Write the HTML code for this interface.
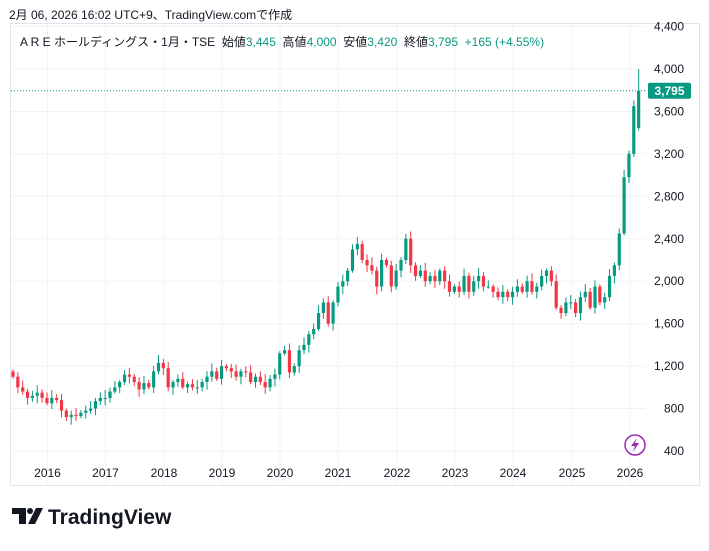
<!DOCTYPE html>
<html><head><meta charset="utf-8"><style>
body{margin:0;background:#fff;width:709px;height:546px;overflow:hidden;font-family:"Liberation Sans","Noto Sans CJK JP",sans-serif;}
</style></head><body>
<svg id="s" width="709" height="546" xmlns="http://www.w3.org/2000/svg" font-family="Liberation Sans, Noto Sans CJK JP, sans-serif"></svg>
<script>
const s=document.getElementById('s');let h='';
h+='<text x="9" y="19" font-size="12" fill="#131722">2月 06, 2026 16:02 UTC+9、TradingView.comで作成</text>';
h+='<rect x="10.5" y="23.5" width="689" height="462" fill="none" stroke="#e0e3eb"/>';
const Y=p=>69+(4000-p)*0.10611;
for(let p=400;p<=4400;p+=400){const y=Y(p);if(y>24&&y<486){h+=`<line x1="11" x2="645" y1="${y}" y2="${y}" stroke="#f0f3fa"/>`;h+=`<text x="684" y="${y+4}" font-size="12" fill="#131722" text-anchor="end">${p.toLocaleString('en-US')}</text>`;}}
const yrs=[47.5,105.5,164,222,280,338,397,455,513,572,630];
yrs.forEach((x,i)=>{h+=`<line x1="${x}" x2="${x}" y1="24" y2="485" stroke="#f0f3fa"/>`;h+=`<text x="${x}" y="477" font-size="12" fill="#131722" text-anchor="middle">${2016+i}</text>`;});
const c=[1100,1000,960,900,920,950,900,
850,900,880,780,720,740,730,760,780,800,870,900,
900,960,1000,1050,1120,1100,1050,980,1040,1000,1150,1230,
1180,1000,1050,1080,1000,1030,1000,1000,1050,1100,1150,1080,
1200,1180,1150,1100,1150,1140,1050,1100,1050,1000,1080,1120,
1320,1350,1140,1200,1350,1400,1500,1550,1700,1800,1600,1800,
1950,2000,2100,2300,2350,2200,2150,2100,1950,2200,2150,1950,
2100,2200,2400,2150,2050,2100,2000,2050,2000,2100,2000,1900,
1950,1900,2050,1900,2000,2050,1950,1950,1900,1850,1900,1850,
1900,1950,1900,2000,1900,1950,2050,2100,2000,1750,1700,1800,
1800,1700,1850,1900,1750,1950,1800,1850,2050,2150,2450,2980,
3200,3650,3795];
let prev=1150;
c.forEach((cl,i)=>{const x=13+i*4.85;let o=prev;if(i==c.length-1)o=3445;
const r=((i*37)%11)/11;const up=cl>=o;const col=up?'#089981':'#f23645';
let hi=Math.max(o,cl)+20+r*60,lo=Math.min(o,cl)-20-((i*53)%7)/7*60;if(i==c.length-1){hi=4000;lo=3420;}
const y1=Y(Math.max(o,cl)),y2=Y(Math.min(o,cl));
h+=`<line x1="${x}" x2="${x}" y1="${Y(hi)}" y2="${Y(lo)}" stroke="${col}"/>`;
h+=`<rect x="${x-1.6}" y="${y1}" width="3.2" height="${Math.max(1,y2-y1)}" fill="${col}"/>`;prev=cl;});
const yl=Y(3795);
h+=`<line x1="11" x2="645" y1="${yl}" y2="${yl}" stroke="#089981" stroke-dasharray="1,2"/>`;
h+=`<rect x="648" y="${yl-8}" width="43" height="16" rx="2" fill="#089981"/><text x="669.5" y="${yl+4}" font-size="12" font-weight="bold" fill="#fff" text-anchor="middle">3,795</text>`;
h+='<text x="20" y="46" font-size="12" fill="#131722">A R E ホールディングス・1月・TSE&#160; 始値<tspan fill="#089981">3,445</tspan>&#160; 高値<tspan fill="#089981">4,000</tspan>&#160; 安値<tspan fill="#089981">3,420</tspan>&#160; 終値<tspan fill="#089981">3,795</tspan>&#160; <tspan fill="#089981">+165 (+4.55%)</tspan></text>';
h+='<circle cx="635" cy="445" r="10" fill="none" stroke="#9c27b0" stroke-width="1.5"/><path d="M637 438 L631 446 L635 446 L633 452 L639 443 L635 443 Z" fill="#9c27b0"/>';
h+='<path d="M12 508 H26 V524 H19 V514 H12 Z" fill="#131722"/><circle cx="30" cy="511" r="3" fill="#131722"/><path d="M36 508 H43 L35 524 H28 Z" fill="#131722"/>';
h+='<text x="48" y="524" font-size="21" font-weight="bold" fill="#131722">TradingView</text>';
s.innerHTML=h;
</script>
</body></html>
